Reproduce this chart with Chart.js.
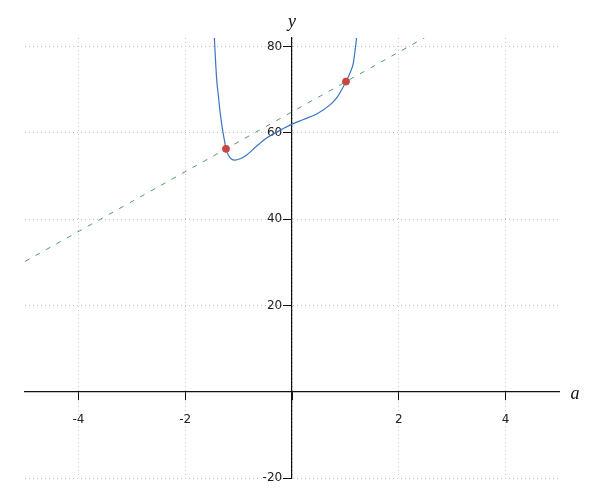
<!DOCTYPE html>
<html>
<head>
<meta charset="utf-8">
<script src="https://cdn.jsdelivr.net/npm/chart.js@4"></script>
<style>
    body { margin: 0; background: #fff; }
    #wrap { width: 600px; height: 500px; }
</style>
</head>
<body>
<div id="wrap"><canvas id="myChart" width="600" height="500"></canvas></div>
<script>
// curve
const curveX = [-1.455, -1.41, -1.38, -1.348, -1.305, -1.273, -1.236, -1.193, -1.129, -1.067, -0.974, -0.848, -0.693, -0.474, -0.163, 0.013, 0.212, 0.463, 0.712, 0.837, 0.931, 1.011, 1.086, 1.148, 1.212];
const curveY = [82.2, 72.3, 68.8, 65.0, 61.1, 58.8, 56.3, 54.9, 53.9, 53.7, 54.0, 54.9, 56.6, 58.8, 61.0, 62.1, 63.1, 64.4, 66.5, 68.1, 70.0, 71.9, 73.9, 76.2, 82.2];

// secant line
const lineX = [-5, 2.5];
const lineY = [30.2, 82.2];

// intersection points
const pointX = [-1.236, 1.011];
const pointY = [56.3, 71.9];

const xTicks = [-4, -2, 0, 2, 4];
const yTicks = [-20, 0, 20, 40, 60, 80];

function toXY(xs, ys) {
    let result = [];
    for (let i = 0; i < xs.length; i++) {
        result.push({x: xs[i], y: ys[i]});
    }
    return result;
}

const axisTitles = {
    id: 'axisTitles',
    afterDraw(chart) {
        const ctx = chart.ctx;
        const xs = chart.scales.x;
        const ys = chart.scales.y;
        ctx.save();
        ctx.fillStyle = '#111';
        ctx.font = 'italic 18px "Liberation Serif"';
        ctx.textAlign = 'center';
        ctx.textBaseline = 'middle';
        ctx.fillText('a', xs.right + 16, ys.getPixelForValue(0) + 3);
        ctx.fillText('y', xs.getPixelForValue(0), chart.chartArea.top - 16);
        ctx.restore();
    }
};

function axisOpts(ticks, pad, suffix) {
    return {
        type: 'linear',
        afterBuildTicks: function(scale) {
            scale.ticks = ticks.map(v => ({value: v}));
        },
        grid: {
            color: '#c4c4c4',
            lineWidth: 1,
            drawTicks: true,
            tickLength: 8,
            tickColor: '#111',
            tickWidth: 1,
            tickBorderDash: []
        },
        border: {
            display: true,
            color: '#111',
            width: 1.2,
            dash: [1, 3]
        },
        ticks: {
            color: '#222',
            padding: pad,
            font: {family: 'DejaVu Sans', size: 12},
            // y labels sit right on the axis line, so push them left with spaces
            callback: function(v) { return v === 0 ? '' : String(v) + suffix; }
        }
    };
}

const xOpts = axisOpts(xTicks, 13, '');
xOpts.min = -5;
xOpts.max = 5;
xOpts.position = {y: 0};

const yOpts = axisOpts(yTicks, 2, '\u2002\u00a0');
yOpts.min = -20;
yOpts.max = 82;
yOpts.position = {x: 0};

new Chart(document.getElementById('myChart'), {
    type: 'scatter',
    data: {
        datasets: [{
            data: toXY(lineX, lineY),
            showLine: true,
            borderColor: '#4f9f62',
            borderWidth: 1,
            borderDash: [5, 7],
            pointRadius: 0,
            order: 3
        }, {
            data: toXY(curveX, curveY),
            showLine: true,
            borderColor: '#3a76c0',
            borderWidth: 1.2,
            cubicInterpolationMode: 'monotone',
            pointRadius: 0,
            order: 2
        }, {
            data: toXY(pointX, pointY),
            backgroundColor: '#cc4440',
            borderColor: '#cc4440',
            pointRadius: 3.5,
            order: 1
        }]
    },
    options: {
        responsive: false,
        animation: false,
        layout: {padding: {left: 25, right: 41, top: 38, bottom: 22}},
        plugins: {legend: {display: false}, tooltip: {enabled: false}},
        scales: {x: xOpts, y: yOpts}
    },
    plugins: [axisTitles]
});
</script>
</body>
</html>
